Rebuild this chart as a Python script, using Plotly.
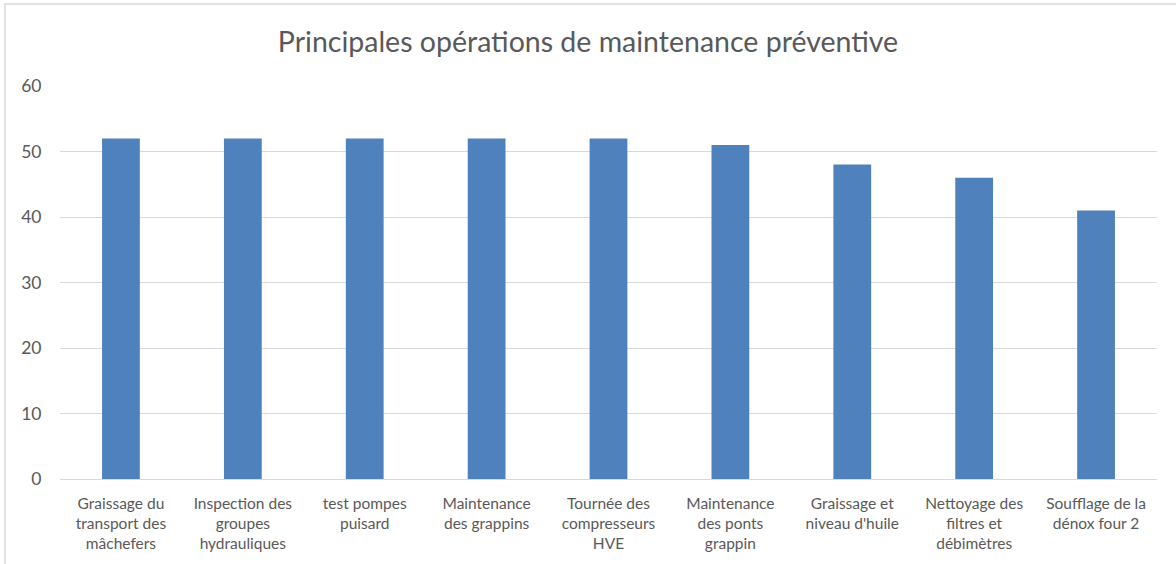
import plotly.graph_objects as go

categories = [
    "Graissage du<br>transport des<br>mâchefers",
    "Inspection des<br>groupes<br>hydrauliques",
    "test pompes<br>puisard",
    "Maintenance<br>des grappins",
    "Tournée des<br>compresseurs<br>HVE",
    "Maintenance<br>des ponts<br>grappin",
    "Graissage et<br>niveau d'huile",
    "Nettoyage des<br>filtres et<br>débimètres",
    "Soufflage de la<br>dénox four 2",
]
values = [52, 52, 52, 52, 52, 51, 48, 46, 41]

W, H = 1176, 564
left, right, top, bottom = 60, 19, 86, 85
pw, ph = W - left - right, H - top - bottom

fig = go.Figure(go.Bar(x=categories, y=values, marker_color="#4F81BD",
                       marker_line_width=0))

fig.update_layout(
    width=W, height=H,
    margin=dict(l=left, r=right, t=top, b=bottom),
    paper_bgcolor="white", plot_bgcolor="white",
    font=dict(family="Lato, Open Sans, sans-serif", color="#595959", size=15),
    title=dict(text="Principales opérations de maintenance préventive",
               x=0.5, xanchor="center", y=1 - 42 / H, yanchor="middle",
               font=dict(size=28.5, color="#595959")),
    bargap=0.69,
    showlegend=False,
)
fig.update_xaxes(showline=True, linecolor="#D9D9D9", linewidth=1,
                 ticks="outside", ticklen=10, tickcolor="rgba(0,0,0,0)",
                 tickfont=dict(size=15.5))
fig.update_yaxes(range=[0, 60], dtick=10, showgrid=True, gridcolor="#D9D9D9",
                 zeroline=False, ticks="outside", ticklen=14,
                 tickcolor="rgba(0,0,0,0)", tickfont=dict(size=17.5))

# chart border
fig.add_shape(type="rect", xref="paper", yref="paper",
              x0=(5 - left) / pw, x1=(W + 5 - left) / pw,
              y0=-(bottom + 5) / ph, y1=1 + (top - 4) / ph,
              line=dict(color="#D9D9D9", width=1.5), layer="below")

# page body has an 8px default margin; drop it so the figure sits at 0,0
fig.write_html("out.html", config={"displayModeBar": False},
               post_script="document.body.style.margin='0';")
